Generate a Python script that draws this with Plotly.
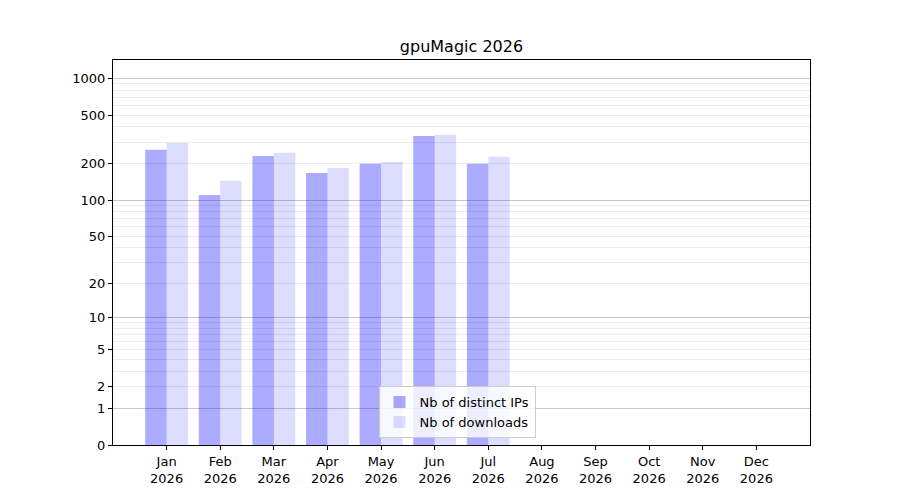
import numpy as np
import plotly.graph_objects as go

# monthly stats, only Jan..Jul have data so far
months = ["Jan", "Feb", "Mar", "Apr", "May", "Jun", "Jul",
          "Aug", "Sep", "Oct", "Nov", "Dec"]
year = "2026"
distinct_ips = [259, 110, 231, 167, 199, 337, 199, 0, 0, 0, 0, 0]
downloads = [295, 144, 245, 184, 207, 344, 227, 0, 0, 0, 0, 0]

tick_values = [0, 1, 2, 5, 10, 20, 50, 100, 200, 500, 1000]
major_grid = [1, 10, 100, 1000]
minor_grid = [m * d for d in (1, 10, 100) for m in range(2, 10)]


def squash(v):
    # log10(1 + x) scale, like the original symlog-ish axis
    return np.log10(1 + np.asarray(v, dtype=float))


x = list(range(len(months)))
ticktext = [f"{m}<br>{year}" for m in months]
font = "DejaVu Sans, sans-serif"

# page body has an 8px margin, so the figure is 8px smaller
W, H = 892, 492

fig = go.Figure()
fig.add_trace(go.Bar(x=x, y=squash(distinct_ips), name="Nb of distinct IPs",
                     marker=dict(color="rgba(0,0,255,0.33)", line=dict(width=0))))
fig.add_trace(go.Bar(x=x, y=squash(downloads), name="Nb of downloads",
                     marker=dict(color="rgba(0,0,255,0.133)", line=dict(width=0))))

yr = [0, 3.15]
fig.update_layout(
    width=W, height=H,
    margin=dict(l=105, r=90, t=52, b=55),
    plot_bgcolor="white", paper_bgcolor="white",
    font=dict(family=font, size=13, color="black"),
    title=dict(text="gpuMagic 2026", x=0.5, xref="paper", xanchor="center",
               y=1 - 38 / H, yref="container", yanchor="middle",
               font=dict(size=16)),
    barmode="group", bargap=0.2, bargroupgap=0,
    showlegend=True,
    legend=dict(x=0.381, y=0.018, xanchor="left", yanchor="bottom",
                bgcolor="rgba(255,255,255,0.8)", bordercolor="#cccccc",
                borderwidth=1, font=dict(size=13)),
    xaxis=dict(range=[-1, 12], tickmode="array", tickvals=x, ticktext=ticktext,
               showgrid=False, zeroline=False, ticks="outside", ticklen=4,
               tickcolor="black", showline=True, linecolor="black",
               linewidth=1, mirror=True),
    yaxis=dict(range=yr, tickmode="array", tickvals=squash(tick_values),
               ticktext=[str(t) for t in tick_values], showgrid=False,
               zeroline=False, ticks="outside", ticklen=4, tickcolor="black",
               showline=True, linecolor="black", linewidth=1, mirror=True,
               minor=dict(tickmode="array", tickvals=squash(minor_grid),
                          showgrid=True, gridcolor="#ebebeb", gridwidth=1,
                          ticks="")),
    yaxis2=dict(range=yr, overlaying="y", side="left", tickmode="array",
                tickvals=squash(major_grid), showticklabels=False, ticks="",
                showgrid=True, gridcolor="#c8c8c8", gridwidth=1,
                zeroline=False, showline=False),
)
# dummy trace so yaxis2 gets drawn
fig.add_trace(go.Scatter(x=[None], y=[None], yaxis="y2", showlegend=False,
                         hoverinfo="skip"))

fig.write_html("out.html")
